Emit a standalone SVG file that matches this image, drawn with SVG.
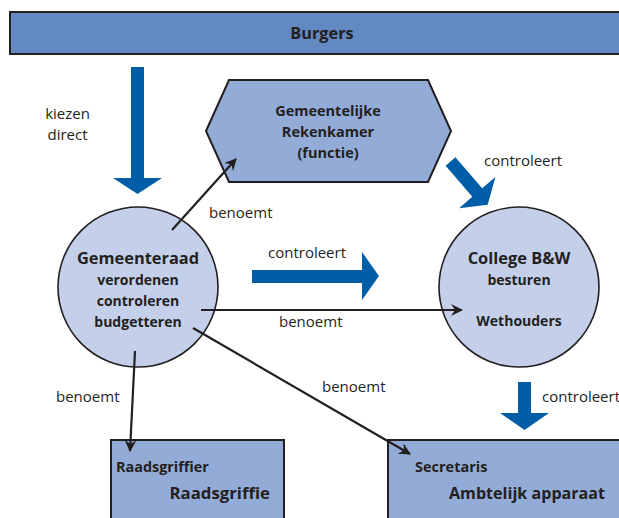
<svg xmlns="http://www.w3.org/2000/svg" width="619" height="518" viewBox="0 0 619 518">
<style>
.box{fill:#93abd7;stroke:#231f20;stroke-width:2}
.top{fill:#6389c3;stroke:#231f20;stroke-width:2}
.circ{fill:#c4d0e9;stroke:#231f20;stroke-width:1.6}
.big{fill:#005ea8}
.ln{stroke:#231f20;stroke-width:2.2;fill:none;marker-end:url(#ah)}
text{font-family:"Open Sans","Liberation Sans",sans-serif;fill:#231f20}
.lbl{font-size:15px}
.b{font-weight:bold}
</style>
<defs>
<marker id="ah" viewBox="0 0 12 12" refX="11" refY="6" markerWidth="12" markerHeight="12" markerUnits="userSpaceOnUse" orient="auto">
<path d="M0,0 L12,6 L0,12 L4,6 Z" fill="#231f20"/>
</marker>
</defs>
<g id="burgers">
<rect class="top" x="10" y="12" width="620" height="42"/>
<text class="b" x="322" y="39" font-size="16.3" text-anchor="middle">Burgers</text>
</g>
<g id="rekenkamer">
<polygon class="box" points="206,131 229,80 428,80 451,131 428,182 229,182"/>
<text class="b" font-size="14.5" text-anchor="middle"><tspan x="328" y="116">Gemeentelijke</tspan><tspan x="328" y="137">Rekenkamer</tspan><tspan x="328" y="158">(functie)</tspan></text>
</g>
<g id="gemeenteraad">
<circle class="circ" cx="138" cy="287" r="80"/>
<text class="b" text-anchor="middle"><tspan x="138" y="264" font-size="16.4">Gemeenteraad</tspan><tspan x="138" y="285" font-size="14">verordenen</tspan><tspan x="138" y="306" font-size="14">controleren</tspan><tspan x="138" y="327" font-size="14">budgetteren</tspan></text>
</g>
<g id="college">
<circle class="circ" cx="519" cy="287" r="80"/>
<text class="b" text-anchor="middle"><tspan x="519" y="264" font-size="16.4">College B&amp;W</tspan><tspan x="519" y="285" font-size="14">besturen</tspan><tspan x="519" y="326" font-size="14">Wethouders</tspan></text>
</g>
<g id="raadsgriffie">
<rect class="box" x="111" y="440" width="173" height="90"/>
<text class="b" x="116" y="472" font-size="14.4">Raadsgriffier</text>
<text class="b" x="270" y="499" font-size="16.8" text-anchor="end">Raadsgriffie</text>
</g>
<g id="ambtelijk">
<rect class="box" x="388" y="440" width="240" height="90"/>
<text class="b" x="415" y="472" font-size="14.5">Secretaris</text>
<text class="b" x="449" y="499" font-size="16.1">Ambtelijk apparaat</text>
</g>
<g id="connectors">
<polygon class="big" points="131,67 144,67 144,178 162,178 137.5,194 113,178 131,178"/>
<polygon class="big" transform="translate(450.5,161.5) rotate(49.3)" points="0,-6.5 41,-6.5 41,-24 57,0 41,24 41,6.5 0,6.5"/>
<polygon class="big" points="252,270 362,270 362,252 379,276 362,300 362,283 252,283"/>
<polygon class="big" points="518,382 531,382 531,413 549,413 524.5,430 500,413 518,413"/>
<line class="ln" x1="172" y1="230" x2="236" y2="159"/>
<line class="ln" x1="201" y1="310" x2="462" y2="310"/>
<line class="ln" x1="135" y1="351" x2="130" y2="451"/>
<line class="ln" x1="193" y1="328" x2="410" y2="454"/>
<text class="lbl" x="67.5" y="119" text-anchor="middle">kiezen</text>
<text class="lbl" x="67.5" y="140" text-anchor="middle">direct</text>
<text class="lbl" x="209" y="218">benoemt</text>
<text class="lbl" x="484" y="166">controleert</text>
<text class="lbl" x="268" y="258">controleert</text>
<text class="lbl" x="279" y="327">benoemt</text>
<text class="lbl" x="56" y="402">benoemt</text>
<text class="lbl" x="322" y="392">benoemt</text>
<text class="lbl" x="542" y="402">controleert</text>
</g>
</svg>
